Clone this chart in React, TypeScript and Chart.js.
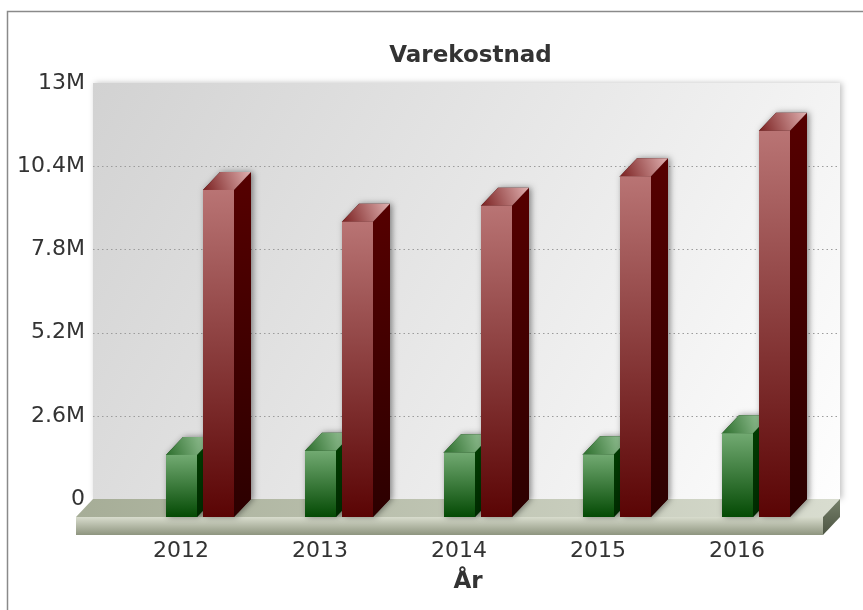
import React, { useEffect, useRef } from 'react';
import { Chart, registerables } from 'chart.js';

Chart.register(...registerables);

const categories = ['2012', '2013', '2014', '2015', '2016'];
const greenValues = [1940000, 2070000, 2020000, 1960000, 2620000];
const redValues = [10220000, 9230000, 9730000, 10650000, 12070000];
const yTickValues = [0, 2600000, 5200000, 7800000, 10400000, 13000000];
const yTickLabels = ['0', '2.6M', '5.2M', '7.8M', '10.4M', '13M'];
const chartTitle = 'Varekostnad';
const xAxisTitle = 'År';

const FONT = '"DejaVu Sans", Verdana, sans-serif';
const DX = 17;
const DY = 18;

type Palette = {
  frontTop: string;
  frontBottom: string;
  sideTop: string;
  sideBottom: string;
  topBack: string;
  topFront: string;
};

const palettes: Palette[] = [
  {
    frontTop: '#72aa72',
    frontBottom: '#044a04',
    sideTop: '#004000',
    sideBottom: '#002a00',
    topBack: '#a8d0a8',
    topFront: '#2c6e2c',
  },
  {
    frontTop: '#b97474',
    frontBottom: '#5a0404',
    sideTop: '#560000',
    sideBottom: '#2c0000',
    topBack: '#e0b0b0',
    topFront: '#7a2020',
  },
];

function drawBox(ctx: CanvasRenderingContext2D, fx: number, fy: number, w: number, h: number, p: Palette) {
  // shadow silhouette
  ctx.save();
  ctx.shadowColor = 'rgba(0,0,0,0.45)';
  ctx.shadowBlur = 6;
  ctx.shadowOffsetX = 2;
  ctx.shadowOffsetY = 0;
  ctx.fillStyle = p.sideBottom;
  ctx.beginPath();
  ctx.moveTo(fx, fy);
  ctx.lineTo(fx + DX, fy - DY);
  ctx.lineTo(fx + w + DX, fy - DY);
  ctx.lineTo(fx + w + DX, fy - DY + h);
  ctx.lineTo(fx + w, fy + h);
  ctx.lineTo(fx, fy + h);
  ctx.closePath();
  ctx.fill();
  ctx.restore();

  // side
  const gs = ctx.createLinearGradient(0, fy - DY, 0, fy + h);
  gs.addColorStop(0, p.sideTop);
  gs.addColorStop(1, p.sideBottom);
  ctx.fillStyle = gs;
  ctx.beginPath();
  ctx.moveTo(fx + w, fy);
  ctx.lineTo(fx + w + DX, fy - DY);
  ctx.lineTo(fx + w + DX, fy - DY + h);
  ctx.lineTo(fx + w, fy + h);
  ctx.closePath();
  ctx.fill();

  // top
  const gt = ctx.createLinearGradient(fx + DX + w, fy - DY, fx, fy);
  gt.addColorStop(0, p.topBack);
  gt.addColorStop(1, p.topFront);
  ctx.fillStyle = gt;
  ctx.beginPath();
  ctx.moveTo(fx, fy);
  ctx.lineTo(fx + DX, fy - DY);
  ctx.lineTo(fx + w + DX, fy - DY);
  ctx.lineTo(fx + w, fy);
  ctx.closePath();
  ctx.fill();

  // front
  const gf = ctx.createLinearGradient(0, fy, 0, fy + h);
  gf.addColorStop(0, p.frontTop);
  gf.addColorStop(1, p.frontBottom);
  ctx.fillStyle = gf;
  ctx.fillRect(fx, fy, w, h);
}

const threeDPlugin = {
  id: 'threeD',
  beforeDraw(chart: any) {
    const { ctx, chartArea: ca, scales } = chart;
    const y = scales.y;
    const wallL = ca.left - 54.5;
    const wallR = ca.right - 2.5;
    const wallT = ca.top;
    const wallB = ca.bottom;
    ctx.save();
    ctx.fillStyle = '#ffffff';
    ctx.fillRect(0, 0, chart.width, chart.height);

    // outer frame
    ctx.strokeStyle = '#8a8a8a';
    ctx.lineWidth = 1.5;
    ctx.beginPath();
    ctx.moveTo(7.5, chart.height + 5);
    ctx.lineTo(7.5, 11.5);
    ctx.lineTo(chart.width + 5, 11.5);
    ctx.stroke();

    // back wall
    ctx.save();
    ctx.shadowColor = 'rgba(0,0,0,0.25)';
    ctx.shadowBlur = 6;
    ctx.shadowOffsetX = 2;
    const gw = ctx.createLinearGradient(wallL, wallT, wallR, wallB);
    gw.addColorStop(0, '#d2d2d2');
    gw.addColorStop(1, '#fefefe');
    ctx.fillStyle = gw;
    ctx.fillRect(wallL, wallT, wallR - wallL, wallB - wallT);
    ctx.restore();

    // dotted grid lines
    ctx.strokeStyle = '#9c9c9c';
    ctx.lineWidth = 1;
    ctx.setLineDash([1.5, 3]);
    y.ticks.forEach((t: any) => {
      if (t.value <= y.min || t.value >= y.max) return;
      const py = Math.round(y.getPixelForValue(t.value)) + 0.5;
      ctx.beginPath();
      ctx.moveTo(wallL, py);
      ctx.lineTo(wallR, py);
      ctx.stroke();
    });
    ctx.setLineDash([]);

    // floor
    const fL = wallL - DX;
    const fR = wallR - DX;
    const fT = wallB + DY;
    const th = 18;
    const gtop = ctx.createLinearGradient(fL, 0, wallR, 0);
    gtop.addColorStop(0, '#a6ad97');
    gtop.addColorStop(1, '#d9ddd0');
    ctx.fillStyle = gtop;
    ctx.beginPath();
    ctx.moveTo(fL, fT);
    ctx.lineTo(wallL, wallB);
    ctx.lineTo(wallR, wallB);
    ctx.lineTo(fR, fT);
    ctx.closePath();
    ctx.fill();

    const gfront = ctx.createLinearGradient(0, fT, 0, fT + th);
    gfront.addColorStop(0, '#d8dccd');
    gfront.addColorStop(1, '#8e957f');
    ctx.fillStyle = gfront;
    ctx.fillRect(fL, fT, fR - fL, th);

    const gside = ctx.createLinearGradient(0, wallB, 0, fT + th);
    gside.addColorStop(0, '#76806a');
    gside.addColorStop(1, '#4c5442');
    ctx.fillStyle = gside;
    ctx.beginPath();
    ctx.moveTo(fR, fT);
    ctx.lineTo(wallR, wallB);
    ctx.lineTo(wallR, wallB + th);
    ctx.lineTo(fR, fT + th);
    ctx.closePath();
    ctx.fill();
    ctx.restore();
  },
  afterDatasetsDraw(chart: any) {
    const ctx = chart.ctx as CanvasRenderingContext2D;
    const metas = chart.getSortedVisibleDatasetMetas();
    const n = chart.data.labels.length;
    ctx.save();
    for (let i = 0; i < n; i++) {
      for (const meta of metas) {
        const el = meta.data[i];
        if (!el) continue;
        const { x, y, base, width } = el.getProps(['x', 'y', 'base', 'width'], true);
        const p = palettes[meta.index % palettes.length];
        drawBox(ctx, x - width / 2 - DX, y + DY, width, base - y, p);
      }
    }
    ctx.restore();
  },
  afterDraw(chart: any) {
    const { ctx, chartArea: ca } = chart;
    const wallL = ca.left - 54.5;
    const wallR = ca.right - 2.5;
    const cx = (wallL + wallR) / 2;
    ctx.save();
    ctx.fillStyle = '#333333';
    ctx.textAlign = 'center';
    ctx.textBaseline = 'alphabetic';
    ctx.font = `bold 23px ${FONT}`;
    ctx.fillText(chartTitle, cx + 4, 62);
    ctx.fillText(xAxisTitle, cx + 1.5, 588);
    ctx.restore();
  },
};

export default function App() {
  const canvasRef = useRef<HTMLCanvasElement | null>(null);

  useEffect(() => {
    document.body.style.margin = '0';
    const canvas = canvasRef.current;
    if (!canvas) return;
    const chart = new Chart(canvas, {
      type: 'bar',
      data: {
        labels: categories,
        datasets: [
          {
            label: 'Serie 1',
            data: greenValues,
            backgroundColor: 'rgba(0,0,0,0)',
            borderWidth: 0,
            categoryPercentage: 0.5324,
            barPercentage: 0.8378,
          },
          {
            label: 'Serie 2',
            data: redValues,
            backgroundColor: 'rgba(0,0,0,0)',
            borderWidth: 0,
            categoryPercentage: 0.5324,
            barPercentage: 0.8378,
          },
        ],
      },
      options: {
        animation: false,
        responsive: false,
        maintainAspectRatio: false,
        devicePixelRatio: 1,
        layout: { padding: { top: 83, right: 20.5, bottom: 0, left: 0 } },
        plugins: {
          legend: { display: false },
          tooltip: { enabled: false },
          title: { display: false },
        },
        scales: {
          x: {
            type: 'category',
            offset: true,
            grid: { display: false, drawTicks: false },
            border: { display: false },
            ticks: {
              color: '#333333',
              font: { family: FONT, size: 22 },
              padding: 39,
              labelOffset: -36,
              maxRotation: 0,
              autoSkip: false,
            },
            afterFit: (s: any) => {
              s.height = 111;
            },
          },
          y: {
            min: 0,
            max: 13000000,
            afterBuildTicks: (s: any) => {
              s.ticks = yTickValues.map((v) => ({ value: v }));
            },
            grid: { display: false, drawTicks: false },
            border: { display: false },
            ticks: {
              color: '#333333',
              font: { family: FONT, size: 22 },
              padding: 62.5,
              callback: (v: any) => {
                const idx = yTickValues.indexOf(Number(v));
                return idx >= 0 ? yTickLabels[idx] : '';
              },
            },
            afterFit: (s: any) => {
              s.width = 147.5;
            },
          },
        },
      },
      plugins: [threeDPlugin],
    } as any);
    return () => chart.destroy();
  }, []);

  return (
    <div style={{ width: 863, height: 610, overflow: 'hidden', position: 'relative' }}>
      <canvas ref={canvasRef} width={863} height={610} style={{ display: 'block' }} />
    </div>
  );
}
